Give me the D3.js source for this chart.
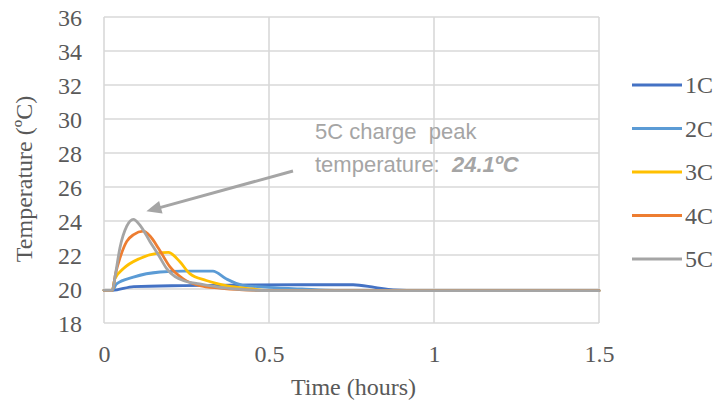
<!DOCTYPE html>
<html>
<head>
<meta charset="utf-8">
<script src="https://cdn.jsdelivr.net/npm/d3@7"></script>
<style>
  html, body { margin: 0; padding: 0; background: #fff; }
  svg { display: block; }
</style>
</head>
<body>
<svg id="chart" width="713" height="409"></svg>
<script>
// Battery temperature during charge at different C-rates
const seriesNames = ["1C", "2C", "3C", "4C", "5C"];
const seriesColors = ["#4472C4", "#5B9BD5", "#FFC000", "#ED7D31", "#A5A5A5"];

const time1C = [0, 0.025, 0.09, 0.24, 0.45, 0.6, 0.755, 0.82, 0.876, 1.0, 1.5];
const temp1C = [19.92, 19.92, 20.14, 20.2, 20.24, 20.25, 20.25, 20.1, 19.95, 19.9, 19.9];

const time2C = [0, 0.025, 0.038, 0.089, 0.17, 0.24, 0.33, 0.37, 0.42, 0.5, 0.6, 0.7, 1.5];
const temp2C = [19.92, 19.92, 20.3, 20.7, 21.0, 21.05, 21.05, 20.6, 20.22, 20.1, 20.0, 19.92, 19.9];

const time3C = [0, 0.025, 0.033, 0.059, 0.109, 0.16, 0.195, 0.23, 0.26, 0.31, 0.37, 0.45, 0.5, 1.5];
const temp3C = [19.92, 19.92, 20.6, 21.2, 21.8, 22.1, 22.15, 21.6, 20.9, 20.5, 20.2, 20.0, 19.9, 19.9];

const time4C = [0, 0.025, 0.035, 0.048, 0.069, 0.09, 0.119, 0.14, 0.165, 0.2, 0.24, 0.29, 0.35, 0.42, 0.5, 1.5];
const temp4C = [19.92, 19.92, 20.9, 21.8, 22.8, 23.2, 23.4, 23.1, 22.4, 21.3, 20.6, 20.2, 20.05, 19.95, 19.9, 19.9];

const time5C = [0, 0.025, 0.035, 0.048, 0.069, 0.089, 0.109, 0.139, 0.165, 0.19, 0.24, 0.29, 0.35, 0.4, 0.5, 1.5];
const temp5C = [19.92, 19.92, 20.9, 22.4, 23.7, 24.1, 23.75, 22.8, 22.0, 21.2, 20.5, 20.3, 20.1, 20.0, 19.9, 19.9];

const xTicks = [0, 0.5, 1, 1.5];
const xTickLabels = ["0", "0.5", "1", "1.5"];
const yTicks = [18, 20, 22, 24, 26, 28, 30, 32, 34, 36];

const peakValue = 24.1;
const peakTime = 0.089;

const seriesTimes = [time1C, time2C, time3C, time4C, time5C];
const seriesTemps = [temp1C, temp2C, temp3C, temp4C, temp5C];

const svg = d3.select("#chart");
const serif = "'Liberation Serif', 'Times New Roman', serif";
const sans = "'Liberation Sans', Arial, sans-serif";
const textColor = "#595959";
const gridColor = "#d9d9d9";

const plot = { left: 104, right: 599, top: 17, bottom: 323 };

const x = d3.scaleLinear().domain([0, 1.5]).range([plot.left, plot.right]);
const y = d3.scaleLinear().domain([18, 36]).range([plot.bottom, plot.top]);

// Gridlines
const grid = svg.append("g");
grid.selectAll("line.h").data(yTicks).join("line")
  .attr("x1", plot.left).attr("x2", plot.right)
  .attr("y1", d => y(d)).attr("y2", d => y(d))
  .attr("stroke", gridColor).attr("stroke-width", 1.6);
grid.selectAll("line.v").data(xTicks).join("line")
  .attr("x1", d => x(d)).attr("x2", d => x(d))
  .attr("y1", plot.top).attr("y2", plot.bottom)
  .attr("stroke", gridColor).attr("stroke-width", 1.6);

// Axes (labels only; lines come from the grid)
const yAxis = svg.append("g")
  .attr("transform", `translate(${plot.left - 22},0)`)
  .call(d3.axisLeft(y).tickValues(yTicks).tickSize(0).tickPadding(0));
yAxis.select(".domain").remove();
yAxis.selectAll("text")
  .attr("font-family", serif).attr("font-size", 24).attr("fill", textColor)
  .attr("dy", "0.34em");

const xAxis = svg.append("g")
  .attr("transform", `translate(0,${plot.bottom + 22})`)
  .call(d3.axisBottom(x).tickValues(xTicks).tickFormat((d, i) => xTickLabels[i]).tickSize(0).tickPadding(0));
xAxis.select(".domain").remove();
xAxis.selectAll("text")
  .attr("font-family", serif).attr("font-size", 24).attr("fill", textColor)
  .attr("dy", "0.71em");

// Axis titles
svg.append("text")
  .attr("x", (plot.left + plot.right) / 2 + 2).attr("y", 395)
  .attr("text-anchor", "middle")
  .attr("font-family", serif).attr("font-size", 24).attr("fill", textColor)
  .text("Time (hours)");

svg.append("text")
  .attr("transform", `translate(32,${(plot.top + plot.bottom) / 2 + 9}) rotate(-90)`)
  .attr("text-anchor", "middle")
  .attr("font-family", serif).attr("font-size", 24).attr("fill", textColor)
  .text("Temperature (ºC)");

// Series lines
const line = d3.line()
  .x(d => x(d[0])).y(d => y(d[1]))
  .curve(d3.curveMonotoneX);

svg.append("g").selectAll("path")
  .data(seriesNames.map((name, i) => ({
    name, color: seriesColors[i],
    points: seriesTimes[i].map((t, j) => [t, seriesTemps[i][j]])
  })))
  .join("path")
  .attr("d", d => line(d.points))
  .attr("fill", "none")
  .attr("stroke", d => d.color)
  .attr("stroke-width", 2.8)
  .attr("stroke-linejoin", "round")
  .attr("stroke-linecap", "round");

// Legend
const legend = svg.append("g");
const legendY = d3.scalePoint().domain(seriesNames).range([85, 259]);
seriesNames.forEach((name, i) => {
  legend.append("line")
    .attr("x1", 632).attr("x2", 682)
    .attr("y1", legendY(name)).attr("y2", legendY(name))
    .attr("stroke", seriesColors[i]).attr("stroke-width", 2.8);
  legend.append("text")
    .attr("x", 685).attr("y", legendY(name))
    .attr("dy", "0.34em")
    .attr("font-family", serif).attr("font-size", 24).attr("fill", textColor)
    .text(name);
});

// Peak annotation with arrow
const annColor = "#a5a5a5";
const tipX = x(peakTime) + 13, tipY = y(peakValue) - 8;
const tailX = 293, tailY = 171;
const ang = Math.atan2(tipY - tailY, tipX - tailX);
const headLen = 15, headHalf = 6.5;
const baseX = tipX - headLen * Math.cos(ang), baseY = tipY - headLen * Math.sin(ang);
svg.append("line")
  .attr("x1", tailX).attr("y1", tailY).attr("x2", baseX + 2 * Math.cos(ang)).attr("y2", baseY + 2 * Math.sin(ang))
  .attr("stroke", annColor).attr("stroke-width", 3);
svg.append("path")
  .attr("d", `M${tipX},${tipY}` +
    `L${baseX - headHalf * Math.sin(ang)},${baseY + headHalf * Math.cos(ang)}` +
    `L${baseX + headHalf * Math.sin(ang)},${baseY - headHalf * Math.cos(ang)}Z`)
  .attr("fill", annColor);

svg.append("text")
  .attr("x", 315).attr("y", 139)
  .attr("font-family", sans).attr("font-size", 22).attr("fill", annColor)
  .attr("xml:space", "preserve")
  .style("white-space", "pre")
  .text("5C charge  peak");
const ann2 = svg.append("text")
  .attr("x", 315).attr("y", 172)
  .attr("font-family", sans).attr("font-size", 22).attr("fill", annColor)
  .style("white-space", "pre");
ann2.append("tspan").text("temperature:  ");
ann2.append("tspan").attr("font-weight", "bold").attr("font-style", "italic")
  .text(`${peakValue}ºC`);
</script>
</body>
</html>
